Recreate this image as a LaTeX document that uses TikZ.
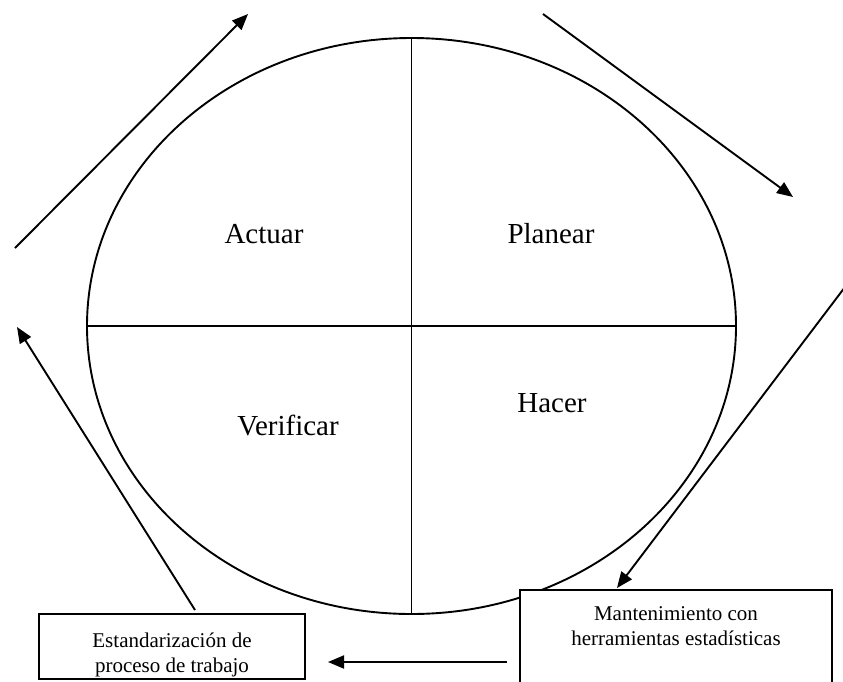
\documentclass[tikz,border=0pt]{standalone}
\usepackage{fontspec}
\setmainfont{Liberation Serif}
\usetikzlibrary{arrows.meta,shapes.geometric}
\begin{document}
\begin{tikzpicture}[x=1pt,y=-1pt, line width=1.9pt,
  arr/.style={-{Triangle[length=16pt,width=13pt]}},
  lbl/.style={font=\fontsize{29}{34}\selectfont, inner sep=0pt, anchor=base},
  infobox/.style={draw, fill=white, inner sep=0pt, outer sep=0pt, anchor=north west,
    font=\fontsize{21}{25}\selectfont}]
\useasboundingbox (0,0) rectangle (843,681);
\clip (0,0) rectangle (843,681);
% cycle
\node[ellipse, draw, minimum width=649pt, minimum height=576pt, inner sep=0pt, outer sep=0pt] (circ) at (411.5,326) {};
\draw (circ.north) -- (circ.south);
\draw (circ.west) -- (circ.east);
% labels
\node[lbl] (actuar) at (264,243) {Actuar};
\node[lbl] (planear) at (551,243) {Planear};
\node[lbl] (verificar) at (288,435) {Verificar};
\node[lbl] (hacer) at (552,412) {Hacer};
% boxes
\node[infobox] (est) at (39,614) {\parbox[c][65pt][t]{266pt}{\centering\vspace*{15.5pt}\strut Estandarización de\\proceso de trabajo}};
\node[infobox] (mant) at (520,590) {\parbox[c][110pt][t]{312pt}{\centering\vspace*{12.5pt}\strut Mantenimiento con\\herramientas estadísticas}};
% arrow ends
\coordinate (a1s) at (15,248);
\coordinate (a1e) at (248,14);
\coordinate (a2s) at (543,14);
\coordinate (a2e) at (793,197);
\coordinate (a3s) at (845,287);
\coordinate (a3e) at (617,588);
\coordinate (a4s) at (507,662);
\coordinate (a4e) at (328,662);
\coordinate (a5s) at (195,610);
\coordinate (a5e) at (17,327);
\draw[arr] (a1s) -- (a1e);
\draw[arr] (a2s) -- (a2e);
\draw[arr] (a3s) -- (a3e);
\draw[arr] (a4s) -- (a4e);
\draw[arr] (a5s) -- (a5e);
\end{tikzpicture}
\end{document}
